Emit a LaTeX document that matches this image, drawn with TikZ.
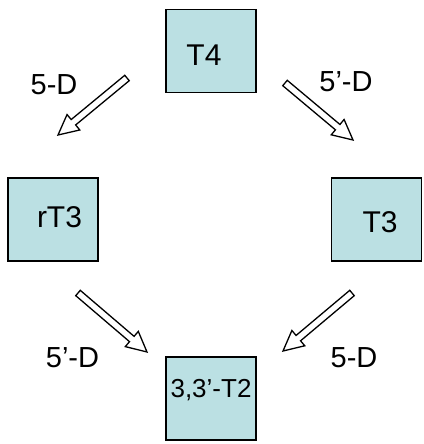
\documentclass[tikz,border=0pt]{standalone}
\usepackage{fontspec}
\setmainfont{Liberation Sans}
\usetikzlibrary{calc}
\definecolor{boxfill}{RGB}{187,224,227}
\tikzset{
  box/.style={draw=black, line width=1.6bp, fill=boxfill, minimum width=90bp, minimum height=83bp, inner sep=0pt},
  boxtext/.style={anchor=base, inner sep=0pt, font=\fontsize{30bp}{34bp}\selectfont},
  smalltext/.style={anchor=base, inner sep=0pt, font=\fontsize{26bp}{30bp}\selectfont},
  lbl/.style={anchor=base, inner sep=0pt, font=\fontsize{29bp}{34bp}\selectfont},
  blk/.style={draw=black, line width=1.3bp, fill=white, line join=miter},
}
\newcommand\blockarrow[2]{%
  \coordinate (ba-h) at ($(#2)!20bp!(#1)$);
  \draw[blk] ($(#1)!3.5bp!90:(#2)$) -- ($(ba-h)!3.5bp!90:(#2)$) -- ($(ba-h)!10bp!90:(#2)$)
    -- (#2) -- ($(ba-h)!10bp!-90:(#2)$) -- ($(ba-h)!3.5bp!-90:(#2)$) -- ($(#1)!3.5bp!-90:(#2)$) -- cycle;}
\begin{document}
\begin{tikzpicture}[x=1bp,y=-1bp]
\useasboundingbox (0,0) rectangle (423,444);
% boxes
\node[box] (t4) at (211,51) {};
\node[box] (rt3) at (53,219.5) {};
\node[box] (t3) at (376.5,219.5) {};
\node[box] (t2) at (211,398.5) {};
% box texts
\node[boxtext] (t4txt) at (204,66) {T4};
\node[boxtext] (rt3txt) at (59.5,227) {rT3};
\node[boxtext] (t3txt) at (380,232) {T3};
\node[smalltext] (t2txt) at (211,397) {3,3’-T2};
% labels
\node[lbl] (l1) at (54,95) {5-D};
\node[lbl] (l2) at (346,92) {5’-D};
\node[lbl] (l3) at (72.5,367) {5’-D};
\node[lbl] (l4) at (354,367) {5-D};
% arrow ends
\coordinate (a1s) at (127,78);
\coordinate (a1e) at (58,135);
\coordinate (a2s) at (285,83);
\coordinate (a2e) at (353,140);
\coordinate (a3s) at (78,293);
\coordinate (a3e) at (147,352);
\coordinate (a4s) at (352,293);
\coordinate (a4e) at (283,351);
\blockarrow{a1s}{a1e}
\blockarrow{a2s}{a2e}
\blockarrow{a3s}{a3e}
\blockarrow{a4s}{a4e}
\end{tikzpicture}
\end{document}
